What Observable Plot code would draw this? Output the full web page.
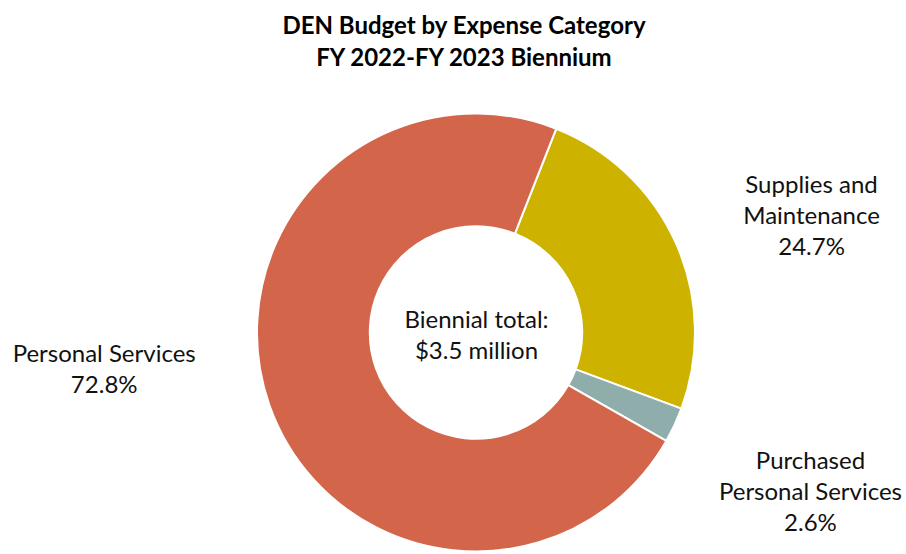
<!DOCTYPE html>
<html>
<head>
<meta charset="utf-8">
<script src="https://cdn.jsdelivr.net/npm/d3@7"></script>
<script src="https://cdn.jsdelivr.net/npm/@observablehq/plot@0.6"></script>
<style>
  html, body { margin: 0; padding: 0; background: #fff; }
  body { width: 906px; height: 554px; overflow: hidden; font-family: Lato, "Open Sans", sans-serif; }
  #title { text-align: center; font-weight: bold; font-size: 24px; line-height: 32px; color: #000; padding-top: 9px; height: 76px; box-sizing: border-box; width: 906px; position: relative; left: 11px;}
</style>
</head>
<body>
<div id="title">DEN Budget by Expense Category<br>FY 2022-FY 2023 Biennium</div>
<div id="chart"></div>
<script>
// Data
const categories = ["Supplies and Maintenance", "Purchased Personal Services", "Personal Services"];
const labelLines = [["Supplies and", "Maintenance"], ["Purchased", "Personal Services"], ["Personal Services"]];
const shares = [24.7, 2.6, 72.8];
const colors = ["#CDB300", "#8EADAB", "#D2654A"];
const centerText = ["Biennial total:", "$3.5 million"];

const startAngleDeg = 21.5;      // rotation of first slice (clockwise from 12 o'clock)
const innerRatio = 0.485;
const lineStep = 0.141;          // line spacing in radius units

const pie = d3.pie().sort(null).value(d => d)
  .startAngle(startAngleDeg * Math.PI / 180)
  .endAngle((startAngleDeg + 360) * Math.PI / 180);
const arcs = pie(shares);

const slices = arcs.map((a, i) => ({
  category: categories[i], share: shares[i], color: colors[i],
  startAngle: a.startAngle, endAngle: a.endAngle
}));

// label anchor positions (in radius units) for each slice
const labelPos = [
  {x: 1.53, y: 0.531},
  {x: 1.525, y: -0.727},
  {x: -1.70, y: -0.169}
];
const labels = [];
slices.forEach((s, i) => {
  const lines = [...labelLines[i], s.share.toFixed(1) + "%"];
  lines.forEach((t, j) => {
    labels.push({text: t, x: labelPos[i].x, y: labelPos[i].y - (j - (lines.length - 1) / 2) * lineStep});
  });
});
const centerLabels = centerText.map((t, j) => ({text: t, x: 0, y: -0.014 - (j - 0.5) * lineStep}));

function donutMark(index, scales) {
  const {x, y} = scales;
  const cx = x(0), cy = y(0);
  const R = x(1) - x(0);
  const arc = d3.arc().innerRadius(R * innerRatio).outerRadius(R);
  const g = d3.create("svg:g").attr("transform", `translate(${cx},${cy})`);
  g.selectAll("path").data(slices).join("path")
    .attr("d", d => arc(d))
    .attr("fill", d => d.color)
    .attr("stroke", "#fff")
    .attr("stroke-width", 2)
    .attr("stroke-linejoin", "round");
  return g.node();
}

const chart = Plot.plot({
  width: 906,
  height: 478,
  marginLeft: 257,
  marginRight: 906 - 695,
  marginTop: 37,
  marginBottom: 478 - 37 - 439,
  x: {domain: [-1, 1], axis: null},
  y: {domain: [-1, 1], axis: null},
  style: {fontFamily: "Lato, 'Open Sans', sans-serif", fontSize: "24px", color: "#000", background: "#fff", overflow: "visible"},
  marks: [
    donutMark,
    Plot.text(labels, {x: "x", y: "y", text: "text", fontSize: 24, fill: "#111"}),
    Plot.text(centerLabels, {x: "x", y: "y", text: "text", fontSize: 24, fill: "#111"})
  ]
});
document.getElementById("chart").appendChild(chart);
</script>
</body>
</html>
